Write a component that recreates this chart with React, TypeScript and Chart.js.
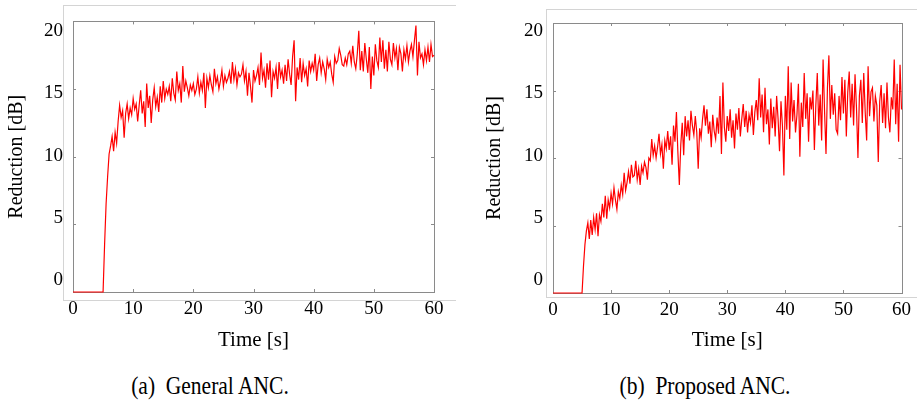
import React, { useEffect, useRef } from "react";
import { Chart, registerables } from "chart.js";

Chart.register(...registerables);

// ---- data ----
const sampleStep = 0.25; // seconds between samples after onset
const onsetTime = 5; // ANC switched on at 5 s
const xTickValues = [0, 10, 20, 30, 40, 50, 60];
const yTickValues = [0, 5, 10, 15, 20];

// (a) General ANC, reduction [dB], samples from 5.0 s to 60.0 s every 0.25 s
const generalAnc = [
  0, 3.5, 6.5, 8.5,
  10.2, 10.8, 11.5, 10.4,
  11.8, 11.0, 12.6, 13.8,
  12.9, 13.4, 11.4, 13.2,
  13.9, 12.8, 13.6, 13.1,
  14.3, 13.5, 13.9, 12.6,
  13.8, 14.9, 13.2, 14.1,
  12.2, 15.4, 13.6, 14.5,
  12.5, 14.2, 15.1, 13.7,
  14.4, 13.3, 15.2, 14.0,
  15.6, 14.3, 15.0, 14.6,
  15.2, 14.1, 15.8, 14.7,
  14.2, 16.3, 14.9, 15.4,
  14.0, 16.7, 14.8, 15.6,
  15.1, 14.5, 15.3, 14.9,
  15.4, 14.6, 15.0, 15.9,
  14.7, 15.5, 14.9, 16.2,
  13.6, 15.8, 15.1, 16.0,
  15.3, 14.8, 16.5, 15.4,
  15.9, 15.0, 15.6, 16.4,
  15.2, 16.0, 15.5, 15.8,
  16.3, 15.4, 17.0, 15.7,
  16.5, 15.3, 16.2, 15.9,
  16.1, 16.8, 15.6, 16.3,
  14.5, 16.2, 15.2, 14.0,
  16.4, 15.6, 16.0, 16.6,
  15.3, 17.7, 15.8, 16.4,
  15.1, 16.9, 15.7, 17.1,
  14.4, 16.3, 15.8, 16.6,
  15.0, 17.0, 15.9, 16.4,
  15.4, 16.8, 15.6, 17.2,
  16.1, 15.3, 17.4, 18.6,
  14.1, 16.6, 15.7, 17.3,
  15.5, 16.9, 16.0, 16.5,
  15.2, 17.1, 16.3, 16.9,
  16.4, 17.6, 15.6, 16.8,
  17.3, 16.2, 17.0, 16.5,
  15.7, 17.2, 16.6, 17.0,
  16.1, 15.5, 17.4, 16.9,
  17.1, 18.0, 17.5, 16.8,
  16.7, 17.3, 16.8, 17.6,
  17.8, 16.9, 18.2, 17.0,
  16.5, 17.6, 19.3, 16.4,
  17.8, 16.3, 18.4, 17.2,
  16.2, 18.1, 15.0, 17.4,
  16.0, 18.3, 17.1, 16.6,
  18.8, 17.0, 18.6, 16.5,
  17.9, 16.3, 18.5, 17.2,
  16.8, 18.4, 17.3, 18.0,
  16.4, 18.1, 17.6, 16.3,
  17.9, 17.2, 18.2, 17.0,
  17.8, 18.3, 17.4, 18.6,
  19.7, 16.0, 18.5, 17.3,
  17.6, 16.8, 17.9, 17.1,
  18.1, 17.0, 18.3, 17.4,
  17.5,
];

// (b) Proposed ANC, reduction [dB], samples from 5.0 s to 60.0 s every 0.25 s
const proposedAnc = [
  0, 2.0, 3.6, 4.6,
  5.2, 4.0, 5.4, 4.3,
  5.6, 4.7, 5.9, 4.2,
  5.8, 5.3, 6.6, 5.6,
  7.2, 5.5, 6.9, 6.3,
  7.4, 6.6, 7.8, 6.9,
  6.2, 7.5, 7.0, 8.0,
  7.3, 8.9, 7.6, 8.2,
  9.0, 8.1, 9.5, 8.6,
  8.7, 9.8, 8.4, 9.2,
  8.0, 9.4, 8.9, 9.7,
  9.3, 8.4, 10.0, 9.8,
  11.4, 10.2, 10.9, 10.0,
  10.8, 11.8, 10.3, 11.0,
  9.2, 11.3, 10.7, 12.0,
  10.6, 11.6, 9.5, 12.4,
  11.2, 13.4, 10.4, 8.0,
  11.0, 12.6, 10.2, 13.1,
  11.6, 12.8, 11.3, 13.5,
  12.4, 11.7, 13.1, 11.9,
  9.2, 12.2, 11.5, 12.9,
  13.9, 12.4, 13.6, 11.8,
  12.7, 10.8, 13.2, 12.0,
  11.4, 13.0, 11.8, 14.6,
  10.3, 15.6, 12.3, 11.2,
  13.1, 12.0, 13.6, 11.5,
  12.8, 10.7, 13.3, 12.1,
  13.7, 11.6, 12.9, 14.0,
  12.3, 13.5, 11.9, 13.2,
  12.6, 13.9, 11.7, 13.4,
  14.3, 12.8, 15.9, 13.0,
  14.7, 11.9, 15.2, 12.5,
  13.6, 11.0, 14.4, 12.2,
  13.8, 11.6, 14.6, 12.9,
  10.5, 14.2, 12.4, 8.7,
  14.6, 12.1, 16.8, 11.4,
  15.6, 12.7, 14.3, 11.9,
  13.2, 15.5, 10.1, 14.1,
  12.3, 16.3, 12.9, 14.8,
  11.2, 14.5, 13.6, 15.0,
  10.6, 13.9, 16.3, 12.4,
  14.7, 11.3, 17.3, 13.5,
  10.3, 15.2, 17.6, 12.9,
  15.4, 13.2, 14.8, 12.1,
  11.8, 14.6, 12.8, 16.0,
  13.3, 15.8, 11.6, 14.9,
  16.4, 13.0, 15.5, 12.4,
  16.2, 13.7, 10.0, 14.6,
  15.8, 12.6, 16.3, 13.4,
  11.3, 16.8, 13.1, 14.9,
  15.2, 12.7, 14.6, 13.9,
  9.7, 14.2, 15.4, 12.6,
  14.8, 12.2, 15.6, 13.0,
  11.9, 14.5, 13.6, 17.3,
  12.5, 15.5, 11.2, 16.9,
  13.6,
];

const xTitle = "Time [s]";
const yTitle = "Reduction [dB]";
const captionA = "(a)  General ANC.";
const captionB = "(b)  Proposed ANC.";

const SERIF = "'Liberation Serif', 'Times New Roman', serif";

function buildPoints(values: number[]) {
  return [
    { x: 0, y: 0 },
    ...values.map((v, i) => ({ x: onsetTime + i * sampleStep, y: v })),
  ];
}

const boxPlugin = {
  id: "matlabBox",
  beforeDatasetsDraw(chart: any) {
    const { ctx, chartArea } = chart;
    const xs = chart.scales.x;
    const ys = chart.scales.y;
    const { left, right, top, bottom } = chartArea;
    const tl = 3;
    ctx.save();
    ctx.strokeStyle = "#8a8a8a";
    ctx.lineWidth = 1;
    ctx.strokeRect(Math.round(left) + 0.5, Math.round(top) + 0.5, Math.round(right - left), Math.round(bottom - top));
    ctx.beginPath();
    for (const v of xTickValues) {
      const px = Math.round(xs.getPixelForValue(v)) + 0.5;
      ctx.moveTo(px, top);
      ctx.lineTo(px, top + tl);
      ctx.moveTo(px, bottom);
      ctx.lineTo(px, bottom - tl);
    }
    for (const v of yTickValues) {
      const py = Math.round(ys.getPixelForValue(v)) + 0.5;
      ctx.moveTo(left, py);
      ctx.lineTo(left + tl, py);
      ctx.moveTo(right, py);
      ctx.lineTo(right - tl, py);
    }
    ctx.stroke();
    ctx.restore();
  },
};

type PanelProps = {
  values: number[];
  left: number;
  top: number;
  width: number;
  height: number;
  padTop: number;
  padRight: number;
  yAxisWidth: number;
  xAxisHeight: number;
  yTitlePad: number;
  // label axis: the printed tick labels sit slightly inside the tick marks in the original
  labelTopInset: number;
  labelBottomInset: number;
};

function Panel(p: PanelProps) {
  const ref = useRef<HTMLCanvasElement | null>(null);
  useEffect(() => {
    if (!ref.current) return;
    const areaH = p.height - p.padTop - p.xAxisHeight;
    const slope = (areaH - p.labelTopInset - p.labelBottomInset) / 20;
    const labelMax = 20 + p.labelTopInset / slope;
    const labelMin = labelMax - areaH / slope;
    const chart = new Chart(ref.current, {
      type: "line",
      data: {
        datasets: [
          {
            data: buildPoints(p.values),
            borderColor: "#ff0000",
            borderWidth: 1.2,
            pointRadius: 0,
            tension: 0,
            clip: 3,
            yAxisID: "y",
          } as any,
        ],
      },
      options: {
        animation: false,
        responsive: false,
        parsing: false as any,
        layout: { padding: { top: p.padTop, right: p.padRight, left: 0, bottom: 0 } },
        plugins: { legend: { display: false }, tooltip: { enabled: false } },
        scales: {
          x: {
            type: "linear",
            min: 0,
            max: 60,
            ticks: {
              stepSize: 10,
              autoSkip: false,
              maxRotation: 0,
              color: "#000",
              padding: 6,
              font: { family: SERIF, size: 19 },
            },
            grid: { display: false, drawTicks: false },
            border: { display: false },
            title: {
              display: true,
              text: xTitle,
              color: "#000",
              font: { family: SERIF, size: 21 },
              padding: { top: 0, bottom: 7 },
            },
            afterFit: (s: any) => {
              s.height = p.xAxisHeight;
            },
          },
          y: {
            type: "linear",
            position: "left",
            min: 0,
            max: 20,
            display: false,
          },
          yl: {
            type: "linear",
            position: "left",
            min: labelMin,
            max: labelMax,
            ticks: {
              stepSize: 5,
              includeBounds: false,
              color: "#000",
              padding: 10,
              font: { family: SERIF, size: 19 },
            },
            grid: { display: false, drawTicks: false },
            border: { display: false },
            title: {
              display: true,
              text: yTitle,
              color: "#000",
              font: { family: SERIF, size: 20 },
              padding: { top: p.yTitlePad, bottom: 0 },
            },
            afterFit: (s: any) => {
              s.width = p.yAxisWidth;
            },
          },
        },
      } as any,
      plugins: [boxPlugin],
    });
    return () => chart.destroy();
  }, []);
  return (
    <canvas
      ref={ref}
      width={p.width}
      height={p.height}
      style={{ position: "absolute", left: p.left, top: p.top, width: p.width, height: p.height }}
    />
  );
}

const frameColor = "#d4d4d4";

const captionStyle: React.CSSProperties = {
  position: "absolute",
  width: 400,
  top: 371,
  textAlign: "center",
  fontSize: 25,
  lineHeight: "30px",
  whiteSpace: "pre",
  color: "#000",
  transform: "scaleX(0.86)",
};

export default function App() {
  return (
    <div
      style={{
        position: "absolute",
        left: 0,
        top: 0,
        width: 917,
        height: 411,
        background: "#fff",
        overflow: "hidden",
        fontFamily: SERIF,
      }}
    >
      <div
        style={{
          position: "absolute",
          left: 63,
          top: 5,
          width: 392,
          height: 294,
          borderTop: `1px solid ${frameColor}`,
          borderLeft: `1px solid ${frameColor}`,
          borderBottom: `1px solid ${frameColor}`,
        }}
      />
      <div
        style={{
          position: "absolute",
          left: 546,
          top: 9,
          width: 371,
          height: 287,
          borderTop: `1px solid ${frameColor}`,
          borderLeft: `1px solid ${frameColor}`,
          borderBottom: `1px solid ${frameColor}`,
        }}
      />
      <Panel
        values={generalAnc}
        left={0}
        top={0}
        width={460}
        height={360}
        padTop={17}
        padRight={26}
        yAxisWidth={73}
        xAxisHeight={68}
        yTitlePad={5}
        labelTopInset={10}
        labelBottomInset={12}
      />
      <Panel
        values={proposedAnc}
        left={460}
        top={0}
        width={457}
        height={360}
        padTop={23}
        padRight={8}
        yAxisWidth={93}
        xAxisHeight={67}
        yTitlePad={23}
        labelTopInset={8}
        labelBottomInset={12.5}
      />
      <div style={{ ...captionStyle, left: 10 }}>{captionA}</div>
      <div style={{ ...captionStyle, left: 505 }}>{captionB}</div>
    </div>
  );
}
